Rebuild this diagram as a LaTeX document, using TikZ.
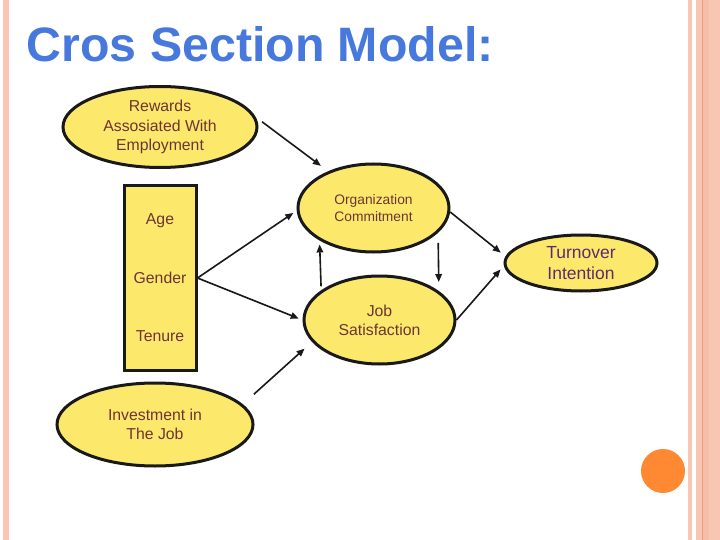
\documentclass[tikz,border=0pt]{standalone}
\usepackage{fontspec}
\setmainfont{Liberation Sans}
\usetikzlibrary{shapes.geometric,arrows.meta}
\definecolor{fillY}{HTML}{FCE96C}
\definecolor{txtR}{HTML}{6E3434}
\definecolor{purp}{HTML}{5E2A6E}
\definecolor{ttl}{HTML}{4678DE}
\definecolor{strip}{HTML}{F9C6B3}
\definecolor{stripD}{HTML}{E8A07A}
\definecolor{orng}{HTML}{FF8833}
\tikzset{
  ell/.style={ellipse, draw=black!90, line width=3pt, fill=fillY, inner sep=0pt, align=center, text=txtR},
  lbl/.style={text=txtR, inner sep=0pt, font=\fontsize{15.8}{19.5}\selectfont},
  arr/.style={-{Triangle[length=8pt,width=6.5pt]}, line width=1.6pt, draw=black!90},
}
\begin{document}
\begin{tikzpicture}[x=1pt,y=-1pt]
\useasboundingbox (0,0) rectangle (720,540);
\fill[white] (0,0) rectangle (720,540);
% side stripes
\fill[strip] (3,0) rectangle (9,540);
\fill[strip] (688,0) rectangle (692,540);
\fill[strip] (696,0) rectangle (720,540);
\fill[strip!80!stripD] (703,0) rectangle (709,540);
\fill[stripD] (701.5,0) rectangle (703,540);
% title
\node[anchor=base west, inner sep=0pt, text=ttl, font=\fontsize{48.3}{50}\selectfont\bfseries] (title) at (26.5,62) {Cros Section Model:};
% nodes
\node[ell, minimum width=194pt, minimum height=81pt, font=\fontsize{15.8}{19.5}\selectfont] (rew) at (160,127) {Rewards\\Assosiated With\\Employment};
\node[draw=black!90, line width=3pt, fill=fillY, minimum width=72pt, minimum height=184pt, inner sep=0pt] (box) at (160,278) {};
\node[lbl] (age) at (160,221) {Age};
\node[lbl] (gender) at (160,278) {Gender};
\node[lbl] (tenure) at (160,336) {Tenure};
\node[ell, minimum width=151pt, minimum height=88pt, font=\fontsize{13.8}{17}\selectfont] (org) at (373.5,208) {Organization\\Commitment};
\node[ell, minimum width=151pt, minimum height=88pt, font=\fontsize{15.8}{19}\selectfont] (job) at (379.5,320) {Job\\Satisfaction};
\node[ell, minimum width=196pt, minimum height=83pt, font=\fontsize{15.8}{19.5}\selectfont] (inv) at (155,424.5) {Investment in\\The Job};
\node[ell, minimum width=152pt, minimum height=56pt, text=purp, font=\fontsize{17.5}{21}\selectfont] (turn) at (581,263) {Turnover\\Intention};
\fill[orng] (663,471) circle (22);
% arrows
\draw[arr, shorten <=8pt, shorten >=9pt] (rew.6) -- (org.141);
\draw[arr, shorten >=4pt] (box.east) -- (org.182);
\draw[arr, shorten >=4pt] (box.east) -- (job.180);
\draw[arr, shorten <=15pt, shorten >=10pt] (inv.13) -- (job.198);
\draw[arr, shorten <=4pt, shorten >=4pt] (job.153.6) -- (org.211.9);
\draw[arr, shorten <=10pt, shorten >=9pt] (org.339.4) -- (job.26.4);
\draw[arr, shorten >=6pt] (org.-3) -- (turn.175.5);
\draw[arr, shorten >=5pt] (job.east) -- (turn.182);
\end{tikzpicture}
\end{document}
